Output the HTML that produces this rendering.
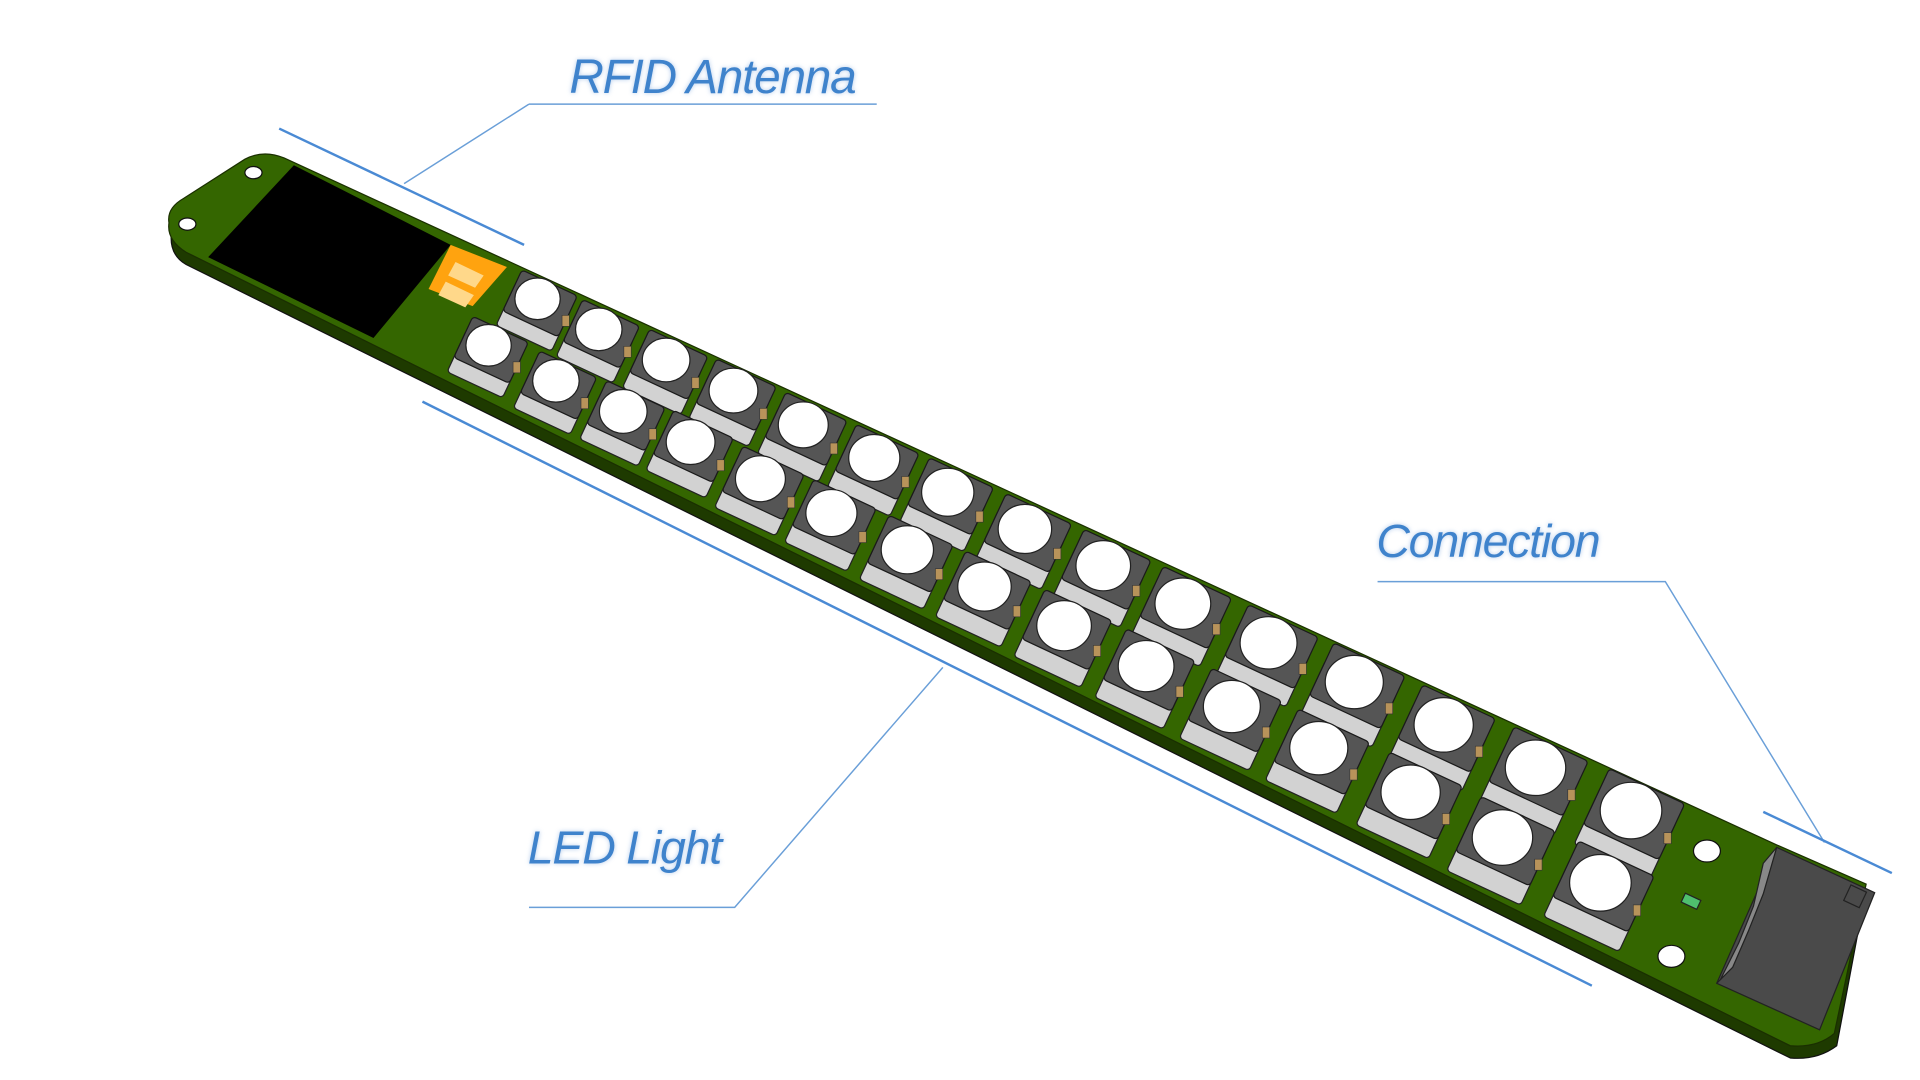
<!DOCTYPE html>
<html><head><meta charset="utf-8"><style>
html,body{margin:0;padding:0;background:#fff;width:1920px;height:1080px;overflow:hidden}
svg{display:block}
text{font-family:"Liberation Sans",sans-serif;font-style:italic;fill:#3f83cc;letter-spacing:-1px}
</style></head><body>
<svg id="s" width="1920" height="1080" viewBox="0 0 1568 882" preserveAspectRatio="none" xmlns="http://www.w3.org/2000/svg">
<defs><filter id="sh" x="-10%" y="-30%" width="120%" height="160%"><feGaussianBlur stdDeviation="2"/></filter></defs>
<path d="M140,190 Q138,172 152,164 L200,132 Q215,124 232,131 L1451,692 L1524,726 L1500,854 Q1484,866 1462,864 L152,216 Q138,208 140,190 Z" fill="#1e3a00" stroke="#111" stroke-width="1"/>
<path d="M138,182 Q136,170 150,162 L200,130 Q215,122 232,129 L1451,690 L1524,722 L1498,844 Q1484,856 1462,854 L152,206 Q136,196 138,182 Z" fill="#346600" stroke="#1a2f00" stroke-width="1"/>
<ellipse cx="207" cy="141" rx="7" ry="5" fill="#fff" stroke="#111"/>
<ellipse cx="153" cy="183" rx="7" ry="5" fill="#fff" stroke="#111"/>
<ellipse cx="1394" cy="695" rx="11" ry="9" fill="#fff" stroke="#111"/>
<ellipse cx="1365" cy="781" rx="11" ry="9" fill="#fff" stroke="#111"/>
<polygon points="240,135 368,200 305,276 170,210" fill="#000"/>
<polygon points="368,200 414,218 386,250 350,236" fill="#ffa30f"/>
<polygon points="372,214 395,225 388,235 366,225" fill="#ffd88a"/>
<polygon points="364,230 387,241 380,251 358,241" fill="#ffd88a"/>
<g id="leds"></g>
<rect x="1374" y="732" width="14" height="8" fill="#4fbf6f" stroke="#222" transform="rotate(25 1381 736)"/>
<polygon points="1451,692 1531,729 1486,841 1402,803" fill="#4a4a4a" stroke="#222"/>
<polygon points="1451,692 1440,705 1432,740 1420,770 1405,800 1402,803 1415,790 1428,760 1440,730" fill="#888" stroke="#222"/>
<rect x="1508" y="725" width="14" height="14" fill="none" stroke="#222" transform="rotate(25 1515 732)"/>
<g stroke="#4a8ad4" fill="none">
<path d="M432,85 L716,85 M432,85 L330,150" stroke-width="1.2" stroke="#6a9fd8"/>
<path d="M228,105 L428,200" stroke-width="2"/>
<path d="M432,741 L600,741 L770,545" stroke-width="1.2" stroke="#6a9fd8"/>
<path d="M345,328 L1300,805" stroke-width="2"/>
<path d="M1125,475 L1360,475 L1490,688" stroke-width="1.2" stroke="#6a9fd8"/>
<path d="M1440,663 L1545,713" stroke-width="2"/>
</g>
<g filter="url(#sh)" opacity="0.5">
<text x="465" y="76" font-size="39" style="fill:#6a9ad8">RFID Antenna</text>
<text x="431" y="705" font-size="38" style="fill:#6a9ad8">LED Light</text>
<text x="1124" y="455" font-size="38" style="fill:#6a9ad8">Connection</text>
</g>
<text x="465" y="76" font-size="39">RFID Antenna</text>
<text x="431" y="705" font-size="38">LED Light</text>
<text x="1124" y="455" font-size="38">Connection</text>
</svg>
<script>
var rowA=[[440,245],[490,270],[545,295],[600,320],[657,348],[715,375],[775,403],[838,433],[902,463],[967,494],[1037,526],[1107,558],[1180,593],[1255,628],[1333,663]];
var rowB=[[400,283],[455,312],[510,337],[565,362],[622,392],[680,420],[742,450],[805,480],[870,512],[937,545],[1007,578],[1078,612],[1153,648],[1228,685],[1308,722]];
var gg=document.getElementById('leds'),hh='';
function led(c,i){var x=c[0],y=c[1],s=50+18*i/14;
 hh+='<g transform="translate('+x+','+(y+5)+') rotate(25)">';
 hh+='<rect x="'+(-s/2)+'" y="'+(-s*0.38+s*0.2)+'" width="'+s+'" height="'+(s*0.76)+'" rx="3" fill="#d2d2d2" stroke="#222"/>';
 hh+='<rect x="'+(-s/2)+'" y="'+(-s*0.42)+'" width="'+s+'" height="'+(s*0.74)+'" rx="3" fill="#555" stroke="#1a1a1a"/>';
 hh+='</g>';
 hh+='<ellipse cx="'+(x-1)+'" cy="'+(y-1)+'" rx="'+(s*0.37)+'" ry="'+(s*0.34)+'" fill="#fff" stroke="#222"/>';
 hh+='<rect x="'+(x+s*0.38)+'" y="'+(y+s*0.25)+'" width="6" height="9" fill="#b8935a" stroke="#333" stroke-width="0.5"/>';
}
for(var i=0;i<15;i++){led(rowA[i],i);led(rowB[i],i);}
gg.innerHTML=hh;
</script>
</body></html>
